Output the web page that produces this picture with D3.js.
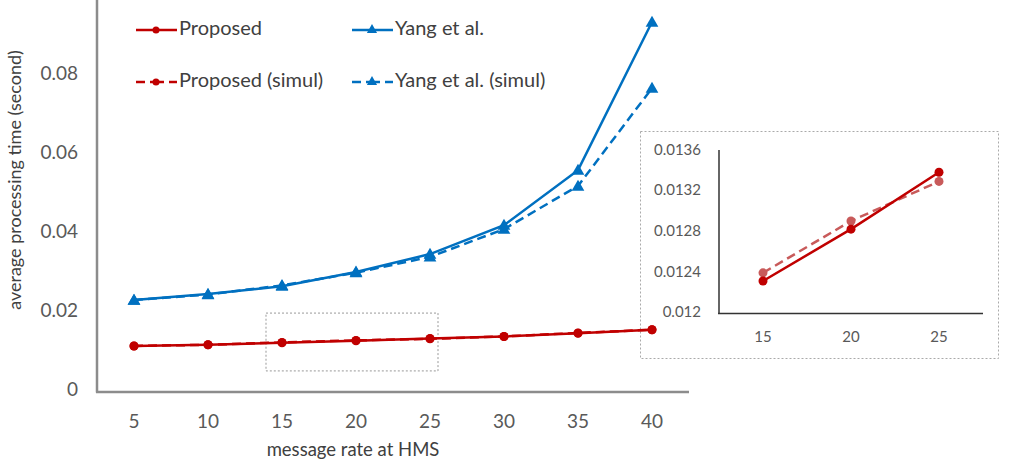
<!DOCTYPE html>
<html>
<head>
<meta charset="utf-8">
<script src="https://cdn.jsdelivr.net/npm/d3@7"></script>
<style>
body { margin: 0; background: #fff; }
svg { display: block; }
</style>
</head>
<body>
<svg id="chart" width="1010" height="459"></svg>
<script>
// data
var rates = [5, 10, 15, 20, 25, 30, 35, 40];
var proposed = [0.0115, 0.0118, 0.01232, 0.01283, 0.01339, 0.0139, 0.0147, 0.0156];
var proposedSimul = [0.0115, 0.0118, 0.0124, 0.01291, 0.0133, 0.0139, 0.0148, 0.0156];
var yang = [0.0231, 0.0246, 0.0266, 0.0302, 0.0347, 0.0420, 0.0559, 0.0933];
var yangSimul = [0.0231, 0.0245, 0.0268, 0.0300, 0.0340, 0.0410, 0.0519, 0.0766];
var yTicks = [0, 0.02, 0.04, 0.06, 0.08, 0.1];
var yTickLabels = ["0", "0.02", "0.04", "0.06", "0.08", "0.1"];

var insetRates = [15, 20, 25];
var insetProposed = proposed.slice(2, 5);
var insetSimul = proposedSimul.slice(2, 5);
var insetTicks = [0.012, 0.0124, 0.0128, 0.0132, 0.0136];
var insetTickLabels = ["0.012", "0.0124", "0.0128", "0.0132", "0.0136"];

var red = "#c00000", blue = "#0070c0", redSimul = "#c85a5a";
var font = "Lato, 'Open Sans', sans-serif";

var svg = d3.select("#chart");

// main scales
var x = d3.scalePoint().domain(rates).range([134, 652]);
var y = d3.scaleLinear().domain([0, 0.1]).range([391.5, -4.5]);

// inset scales
var xi = d3.scalePoint().domain(insetRates).range([763, 939]);
var yi = d3.scaleLinear().domain([0.012, 0.0136]).range([313.5, 150.9]);

// inset frame (under the main lines, the 40 marker sits on its edge)
svg.append("rect").attr("x", 640.5).attr("y", 131.5).attr("width", 358).attr("height", 227)
   .style("fill", "#fff").style("stroke", "#aaa").style("stroke-width", 1).style("stroke-dasharray", "2,2");

// zoom rectangle on the main plot
svg.append("rect")
    .attr("x", x(15) - 16).attr("y", y(0.0198))
    .attr("width", x(25) - x(15) + 24).attr("height", y(0.0052) - y(0.0198))
    .style("fill", "none").style("stroke", "#999").style("stroke-width", 1)
    .style("stroke-dasharray", "2,2");

// axes
svg.append("line").attr("x1", 97).attr("y1", 0).attr("x2", 97).attr("y2", 392.5)
    .style("stroke", "#8c8c8c").style("stroke-width", 2.5);
svg.append("line").attr("x1", 96).attr("y1", 392).attr("x2", 689).attr("y2", 392)
    .style("stroke", "#8c8c8c").style("stroke-width", 2.5);

yTicks.forEach(function(t, i) {
  svg.append("text").attr("x", 78).attr("y", y(t)).text(yTickLabels[i])
     .attr("text-anchor", "end").attr("dominant-baseline", "middle")
     .style("font-family", font).style("font-size", "19px").style("fill", "#595959");
});
rates.forEach(function(r) {
  svg.append("text").attr("x", x(r)).attr("y", 423).text(r)
     .attr("text-anchor", "middle").attr("dominant-baseline", "middle")
     .style("font-family", font).style("font-size", "19px").style("fill", "#595959");
});

svg.append("text").attr("x", 353).attr("y", 451).text("message rate at HMS")
   .attr("text-anchor", "middle").attr("dominant-baseline", "middle")
   .style("font-family", font).style("font-size", "18.5px").style("fill", "#404040");
svg.append("text").attr("transform", "translate(16,180) rotate(-90)").text("average processing time (second)")
   .attr("text-anchor", "middle").attr("dominant-baseline", "middle")
   .style("font-family", font).style("font-size", "18px").style("fill", "#404040");

var tri = d3.symbol().type(d3.symbolTriangle).size(70);

function drawSeries(g, xs, vals, xsc, ysc, color, dashed, marker, w) {
  var line = d3.line().x(function(d, i) { return xsc(xs[i]); }).y(function(d) { return ysc(d); });
  g.append("path").datum(vals).attr("d", line)
   .style("fill", "none").style("stroke", color).style("stroke-width", w)
   .style("stroke-dasharray", dashed ? "9,5" : null);
  vals.forEach(function(v, i) {
    if (marker == "circle") {
      g.append("circle").attr("cx", xsc(xs[i])).attr("cy", ysc(v)).attr("r", 4.5).style("fill", color);
    } else {
      g.append("path").attr("d", tri).attr("transform", "translate(" + xsc(xs[i]) + "," + (ysc(v) + 1) + ")").style("fill", color);
    }
  });
}

// inset axes and labels
svg.append("line").attr("x1", 719).attr("y1", 150).attr("x2", 719).attr("y2", 314)
   .style("stroke", "#333").style("stroke-width", 1.5);
svg.append("line").attr("x1", 718).attr("y1", 313.5).attr("x2", 983).attr("y2", 313.5)
   .style("stroke", "#333").style("stroke-width", 1.5);

insetTicks.forEach(function(t, i) {
  svg.append("text").attr("x", 701).attr("y", yi(t)).text(insetTickLabels[i])
     .attr("text-anchor", "end").attr("dominant-baseline", "middle")
     .style("font-family", font).style("font-size", "15px").style("fill", "#595959");
});
insetRates.forEach(function(r) {
  svg.append("text").attr("x", xi(r)).attr("y", 338).text(r)
     .attr("text-anchor", "middle").attr("dominant-baseline", "middle")
     .style("font-family", font).style("font-size", "15px").style("fill", "#595959");
});

var inset = svg.append("g");
drawSeries(inset, insetRates, insetSimul, xi, yi, redSimul, true, "circle", 2.5);
drawSeries(inset, insetRates, insetProposed, xi, yi, red, false, "circle", 2.5);

var main = svg.append("g");
drawSeries(main, rates, yangSimul, x, y, blue, true, "tri", 2.5);
drawSeries(main, rates, yang, x, y, blue, false, "tri", 2.5);
drawSeries(main, rates, proposedSimul, x, y, red, true, "circle", 2.5);
drawSeries(main, rates, proposed, x, y, red, false, "circle", 2.5);

// legend
var legend = [
  {name: "Proposed", color: red, dashed: false, marker: "circle", lx: 136, ly: 30},
  {name: "Yang et al.", color: blue, dashed: false, marker: "tri", lx: 352, ly: 30},
  {name: "Proposed (simul)", color: red, dashed: true, marker: "circle", lx: 136, ly: 82},
  {name: "Yang et al. (simul)", color: blue, dashed: true, marker: "tri", lx: 352, ly: 82}
];
legend.forEach(function(d) {
  if (d.dashed) {
    svg.append("line").attr("x1", d.lx).attr("y1", d.ly).attr("x2", d.lx + 9).attr("y2", d.ly).style("stroke", d.color).style("stroke-width", 2.5);
    svg.append("line").attr("x1", d.lx + 14).attr("y1", d.ly).attr("x2", d.lx + 28).attr("y2", d.ly).style("stroke", d.color).style("stroke-width", 2.5);
    svg.append("line").attr("x1", d.lx + 33).attr("y1", d.ly).attr("x2", d.lx + 41).attr("y2", d.ly).style("stroke", d.color).style("stroke-width", 2.5);
  } else {
    svg.append("line").attr("x1", d.lx).attr("y1", d.ly).attr("x2", d.lx + 41).attr("y2", d.ly).style("stroke", d.color).style("stroke-width", 2.5);
  }
  if (d.marker == "circle") {
    svg.append("circle").attr("cx", d.lx + 20).attr("cy", d.ly).attr("r", 3.5).style("fill", d.color);
  } else {
    svg.append("path").attr("d", d3.symbol().type(d3.symbolTriangle).size(45)).attr("transform", "translate(" + (d.lx + 20) + "," + d.ly + ")").style("fill", d.color);
  }
  svg.append("text").attr("x", d.lx + 43).attr("y", d.ly).text(d.name)
     .attr("dominant-baseline", "middle")
     .style("font-family", font).style("font-size", "20px").style("fill", "#404040");
});
</script>
</body>
</html>
